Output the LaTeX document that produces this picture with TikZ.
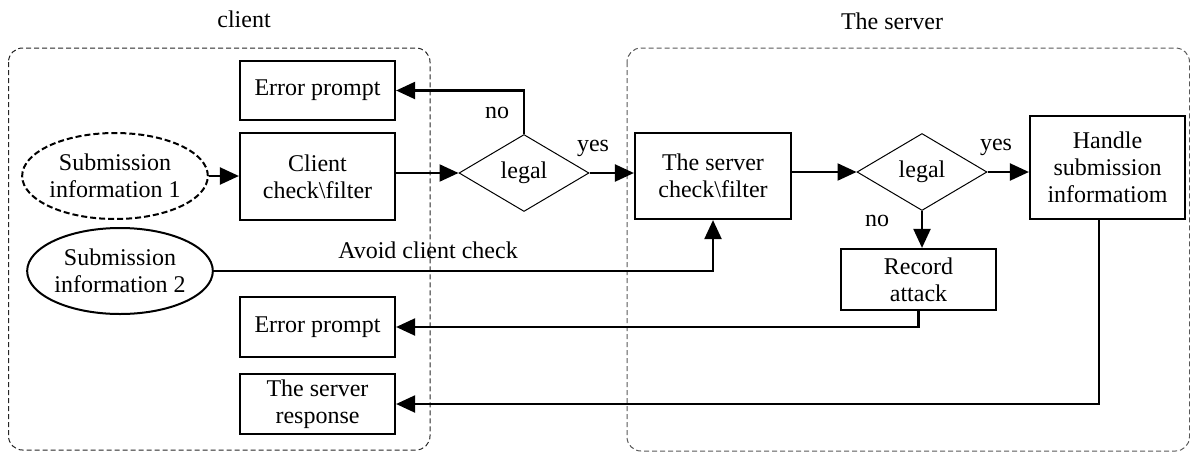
\documentclass[tikz,border=0pt]{standalone}
\usepackage{fontspec}
\setmainfont{Liberation Serif}
\usetikzlibrary{shapes.geometric,arrows.meta}
\begin{document}
\begin{tikzpicture}[x=1pt,y=-1pt,
  every node/.style={font=\fontsize{24}{27}\selectfont, align=center, inner sep=0pt},
  boxnode/.style={draw, line width=2.2pt, rectangle, minimum width=155pt},
  decision/.style={draw, line width=1pt, diamond, minimum width=130pt, minimum height=77pt, aspect=1.7},
  subm/.style={draw, line width=2pt, ellipse},
  container/.style={draw, line width=1pt, dash pattern=on 5pt off 3pt, rounded corners=14pt},
  conn/.style={line width=2.2pt, -{Triangle[length=19pt,width=17pt]}},
  lbl/.style={font=\fontsize{24}{27}\selectfont}
]
\useasboundingbox (0,0) rectangle (1190,453);
% containers
\draw[container, black!85] (8.5,48) rectangle (430,450);
\draw[container, black!65] (627,48) rectangle (1189.5,451);
\node[lbl] (clientlbl) at (244,19) {client};
\node[lbl] (serverlbl) at (892,21) {The server};
% nodes
\node[boxnode, minimum height=59pt] (ep1) at (317.5,90.5) {Error prompt};
\node[boxnode, minimum height=87pt] (cc) at (317.5,176.5) {Client\\check\textbackslash filter};
\node[subm, dashed, dash pattern=on 6pt off 3pt, minimum width=164pt, minimum height=86pt] (e1) at (115,176) {Submission\\information 1};
\node[decision] (d1) at (524,173) {legal};
\node[boxnode, minimum width=156pt, minimum height=86pt] (sc) at (713,176) {The server\\check\textbackslash filter};
\node[decision] (d2) at (922,172) {legal};
\node[boxnode, minimum height=103pt] (hd) at (1107.5,167.5) {Handle\\submission\\informatiom};
\node[boxnode, minimum height=61pt] (ra) at (918.5,279.5) {Record\\attack};
\node[subm, minimum width=172pt, minimum height=86pt] (e2) at (120,271) {Submission\\information 2};
\node[boxnode, minimum height=60pt] (ep2) at (317.5,327) {Error prompt};
\node[boxnode, minimum height=60pt] (sr) at (317.5,404) {The server\\response};
% connectors
\draw[conn] (e1.east) -- (cc.west |- e1.east);
\draw[conn] (cc.east |- d1.west) -- (d1.west);
\draw[conn] (d1.north) |- (ep1.east);
\draw[conn] (d1.east) -- (sc.west |- d1.east);
\draw[conn] (sc.east |- d2.west) -- (d2.west);
\draw[conn] (d2.east) -- (hd.west |- d2.east);
\draw[conn] (d2.south) -- (d2.south |- ra.north);
\draw[conn] (e2.east) -| (sc.south);
\draw[conn] (ra.south) |- (ep2.east);
\coordinate (hdout) at (1099,219);
\draw[conn] (hdout) |- (sr.east);
% labels
\node[lbl] (no1) at (497,113) {no};
\node[lbl] (yes1) at (593,148) {yes};
\node[lbl] (yes2) at (996,147) {yes};
\node[lbl] (no2) at (877,221) {no};
\node[lbl] (avoid) at (428,250) {Avoid client check};
\end{tikzpicture}
\end{document}
